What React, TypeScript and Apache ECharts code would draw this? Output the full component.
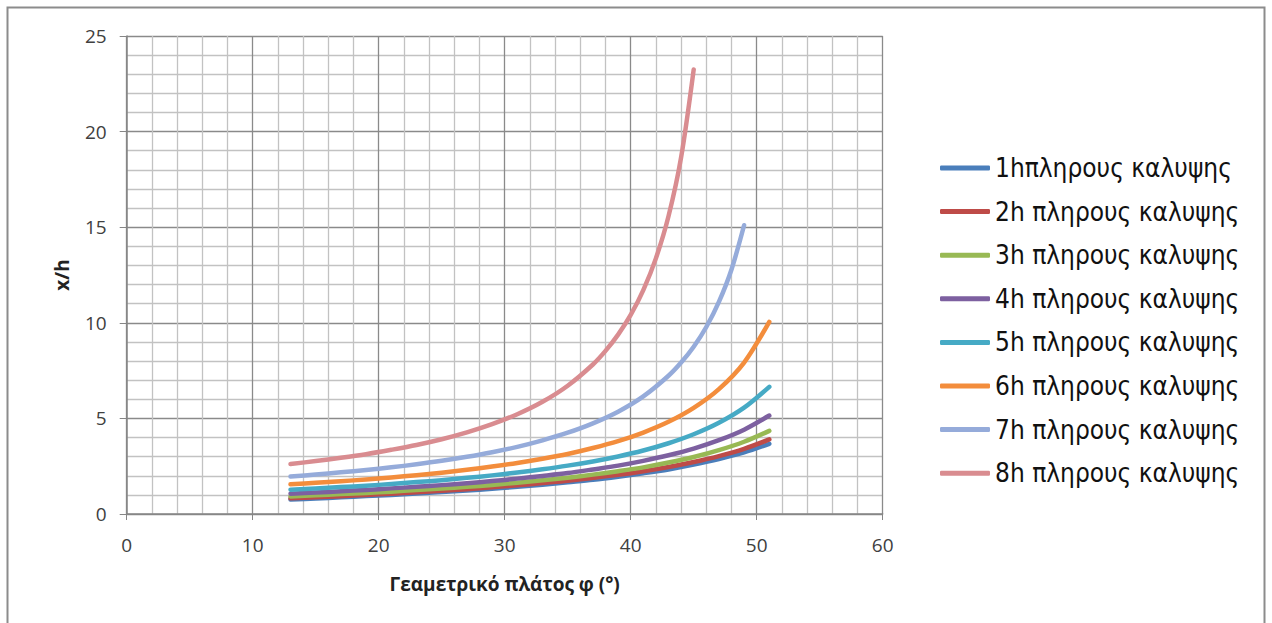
import React, { useEffect, useRef } from "react";
import * as echarts from "echarts";

const seriesNames = [
  "1hπληρους καλυψης",
  "2h πληρους καλυψης",
  "3h πληρους καλυψης",
  "4h πληρους καλυψης",
  "5h πληρους καλυψης",
  "6h πληρους καλυψης",
  "7h πληρους καλυψης",
  "8h πληρους καλυψης",
];

const latFull = [13, 15, 17, 19, 21, 23, 25, 27, 29, 31, 33, 35, 37, 39, 41, 43, 45, 47, 49, 51];
const lat7h = [13, 15, 17, 19, 21, 23, 25, 27, 29, 31, 33, 35, 37, 39, 41, 43, 44, 45, 46, 47, 48, 49];
const lat8h = [13, 15, 17, 19, 21, 23, 25, 27, 29, 31, 33, 35, 37, 38, 39, 40, 41, 42, 43, 44, 45];

const h1 = [0.76, 0.81, 0.87, 0.94, 1.0, 1.07, 1.15, 1.23, 1.32, 1.42, 1.53, 1.66, 1.79, 1.95, 2.13, 2.33, 2.58, 2.87, 3.22, 3.67];
const h2 = [0.82, 0.87, 0.93, 1.0, 1.06, 1.14, 1.22, 1.3, 1.4, 1.5, 1.62, 1.74, 1.89, 2.05, 2.24, 2.46, 2.72, 3.03, 3.41, 3.9];
const h3 = [0.92, 0.98, 1.04, 1.1, 1.17, 1.25, 1.33, 1.42, 1.52, 1.64, 1.76, 1.9, 2.06, 2.24, 2.44, 2.69, 2.98, 3.34, 3.78, 4.35];
const h4 = [1.06, 1.12, 1.19, 1.26, 1.34, 1.42, 1.51, 1.61, 1.72, 1.85, 1.99, 2.14, 2.33, 2.53, 2.78, 3.07, 3.42, 3.86, 4.41, 5.15];
const h5 = [1.27, 1.33, 1.41, 1.48, 1.57, 1.67, 1.77, 1.89, 2.02, 2.17, 2.34, 2.53, 2.75, 3.01, 3.32, 3.7, 4.17, 4.77, 5.56, 6.65];
const h6 = [1.55, 1.63, 1.71, 1.81, 1.91, 2.03, 2.16, 2.31, 2.48, 2.67, 2.89, 3.14, 3.45, 3.81, 4.26, 4.82, 5.55, 6.53, 7.92, 10.05];
const h7 = [1.96, 2.06, 2.18, 2.3, 2.44, 2.6, 2.78, 2.99, 3.23, 3.51, 3.85, 4.25, 4.74, 5.35, 6.15, 7.23, 7.92, 8.75, 9.78, 11.09, 12.79, 15.1];
const h8 = [2.61, 2.77, 2.94, 3.13, 3.36, 3.61, 3.91, 4.27, 4.7, 5.22, 5.87, 6.71, 7.82, 8.53, 9.38, 10.41, 11.71, 13.37, 15.57, 18.65, 23.25];

const xTicks = { min: 0, max: 60, interval: 10 };
const yTicks = { min: 0, max: 25, interval: 5 };

const colors = ["#4A7EBB", "#BE4B48", "#98B954", "#7D60A0", "#46AAC5", "#F38D3C", "#95ABDA", "#D98C90"];

const xAxisName = "Γεαμετρικό πλάτος φ (°)";
const yAxisName = "x/h";

export default function App() {
  const ref = useRef<HTMLDivElement>(null);
  useEffect(() => {
    if (!ref.current) return;
    const chart = echarts.init(ref.current, null, { renderer: "svg" });
    const xsList = [latFull, latFull, latFull, latFull, latFull, latFull, lat7h, lat8h];
    const ysList = [h1, h2, h3, h4, h5, h6, h7, h8];
    const font = "'Open Sans', 'Noto Sans', sans-serif";
    chart.setOption({
      animation: false,
      backgroundColor: "#ffffff",
      color: colors,
      grid: { left: 126.7, top: 36, width: 756, height: 478, containLabel: false },
      graphic: [
        {
          type: "rect",
          shape: { x: 7.5, y: 7.5, width: 1257, height: 700 },
          style: { fill: "none", stroke: "#8c8c8c", lineWidth: 2 },
          silent: true,
        },
      ],
      legend: {
        orient: "vertical",
        left: 935,
        top: 148,
        itemWidth: 50,
        itemHeight: 5,
        itemGap: 13.6,
        icon: "roundRect",
        textStyle: {
          fontSize: 26,
          lineHeight: 30,
          color: "#111",
          fontFamily: "'Liberation Sans Narrow', 'DejaVu Sans Condensed', 'Noto Sans', sans-serif",
        },
        data: seriesNames,
      },
      xAxis: {
        type: "value",
        min: xTicks.min,
        max: xTicks.max,
        interval: xTicks.interval,
        name: xAxisName,
        nameLocation: "middle",
        nameGap: 60,
        nameTextStyle: { fontSize: 19, fontWeight: "bold", color: "#222", fontFamily: font },
        axisLine: { show: true, lineStyle: { color: "#868686", width: 1.5 } },
        axisTick: { show: true, length: 6, lineStyle: { color: "#868686" } },
        axisLabel: { fontSize: 19, color: "#404040", margin: 21, fontFamily: font },
        splitLine: { show: true, lineStyle: { color: "#8a8a8a", width: 1.3 } },
        minorTick: { show: false, splitNumber: 5 },
        minorSplitLine: { show: true, lineStyle: { color: "#c2c2c2", width: 1.3 } },
      },
      yAxis: {
        type: "value",
        min: yTicks.min,
        max: yTicks.max,
        interval: yTicks.interval,
        name: yAxisName,
        nameLocation: "middle",
        nameGap: 55,
        nameRotate: 90,
        nameTextStyle: { fontSize: 19, fontWeight: "bold", color: "#222", fontFamily: font },
        axisLine: { show: true, lineStyle: { color: "#868686", width: 1.5 } },
        axisTick: { show: true, length: 7, lineStyle: { color: "#868686" } },
        axisLabel: { fontSize: 19, color: "#404040", margin: 20, fontFamily: font },
        splitLine: { show: true, lineStyle: { color: "#8a8a8a", width: 1.3 } },
        minorTick: { show: false, splitNumber: 5 },
        minorSplitLine: { show: true, lineStyle: { color: "#c2c2c2", width: 1.3 } },
      },
      series: seriesNames.map((name, i) => ({
        name,
        type: "line",
        smooth: 0.3,
        showSymbol: false,
        symbol: "none",
        lineStyle: { width: 4.5, color: colors[i], cap: "round", join: "round" },
        itemStyle: { color: colors[i] },
        data: xsList[i].map((x, j) => [x, ysList[i][j]]),
      })),
    });
    return () => chart.dispose();
  }, []);
  return (
    <div
      ref={ref}
      style={{ position: "fixed", left: 0, top: 0, width: 1272, height: 623, background: "#fff" }}
    />
  );
}
